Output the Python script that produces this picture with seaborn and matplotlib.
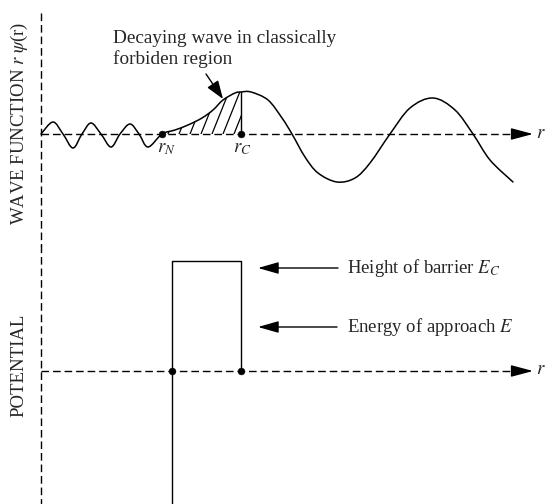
import numpy as np
import pandas as pd
import matplotlib
matplotlib.use("Agg")
import matplotlib.pyplot as plt
import seaborn as sns
from matplotlib.path import Path
from matplotlib.patches import PathPatch

# ---- schematic values (r along the axis, psi / V measured from the axis) ----
wave_r = [0, 12, 22, 32, 41, 50, 60, 70, 79, 89, 98, 107, 121,
          134, 147, 161, 172, 182, 194, 200, 210, 227, 241, 251, 264, 277, 296,
          314, 329, 349, 369, 392, 414, 432, 449, 472]
wave_psi = [0, 12, 0, -14, 0, 11, 0, -13, 0, 10, 0, -13, 0,
            4, 9, 16, 24, 34, 41, 42, 42, 34, 16, 0, -23, -39, -48,
            -44, -29, 0, 26, 36, 24, 0, -26, -48]
r_N = 121
r_C = 200
psi_C = 42

barrier_r = [131, 131, 200, 200]
barrier_V = [-140, 110, 110, 0]
level_EC = 103
level_E = 44

r_end = 479
r_tip = 492

sns.set_style("white")
plt.rcParams["font.family"] = ["Liberation Serif", "DejaVu Serif"]
plt.rcParams["mathtext.fontset"] = "stix"

W, H = 546, 504
fig = plt.figure(figsize=(W / 100, H / 100), dpi=100)
fig.patch.set_facecolor("white")

split = 245  # pixel row separating the two panels
ax_top = fig.add_axes([0, (H - split) / H, 1, split / H])
ax_bot = fig.add_axes([0, 0, 1, (H - split) / H])
for ax in (ax_top, ax_bot):
    ax.set_axis_off()
    ax.set_xlim(-41, W - 41)
ax_top.set_ylim(-(split - 134), 134)
ax_bot.set_ylim(-(H - 371), 371 - split)

LW = 1.0
DASH = (5.5, 2.8)
FS = 13.5


def catmull_segments(xs, ys):
    pts = np.column_stack([xs, ys]).astype(float)
    n = len(pts)
    segs = []
    for i in range(n - 1):
        p0 = pts[i - 1] if i > 0 else pts[i]
        p1, p2 = pts[i], pts[i + 1]
        p3 = pts[i + 2] if i + 2 < n else pts[i + 1]
        segs.append((p1, p1 + (p2 - p0) / 6, p2 - (p3 - p1) / 6, p2))
    return segs


def bezier_path(segs, close_to=None):
    verts = [segs[0][0]]
    codes = [Path.MOVETO]
    for _, c1, c2, p2 in segs:
        verts += [c1, c2, p2]
        codes += [Path.CURVE4] * 3
    if close_to is not None:
        for p in close_to:
            verts.append(p)
            codes.append(Path.LINETO)
        verts.append(verts[0])
        codes.append(Path.CLOSEPOLY)
    return Path(verts, codes)


def dashed(ax, x, y):
    df = pd.DataFrame({"x": x, "y": y})
    sns.lineplot(data=df, x="x", y="y", ax=ax, sort=False, estimator=None,
                 color="black", lw=LW, clip_on=False)
    ax.lines[-1].set_dashes(DASH)


def axis_arrow(ax, y0):
    ax.annotate("", xy=(r_tip, y0), xytext=(r_end - 2, y0),
                arrowprops=dict(arrowstyle="-|>,head_length=0.75,head_width=0.2",
                                color="black", lw=LW, shrinkA=0, shrinkB=0,
                                mutation_scale=18))


# ---- upper panel: wave function ----
dashed(ax_top, [0, 0], [121, -(split - 134) - 1])
dashed(ax_top, [0, r_end], [0, 0])
axis_arrow(ax_top, 0)

segs = catmull_segments(wave_r, wave_psi)
ax_top.add_patch(PathPatch(bezier_path(segs), fill=False, edgecolor="black",
                           lw=LW * 1.1, capstyle="round", zorder=4))

# hatching under the decaying part between r_N and r_C
iN = wave_r.index(r_N)
iC = wave_r.index(r_C)
region = PathPatch(bezier_path(segs[iN:iC], close_to=[(r_C, 0)]),
                   facecolor="none", edgecolor="none")
ax_top.add_patch(region)
slope = 2.5
for x0 in np.arange(r_N + 6, r_C + 20, 11):
    ln, = ax_top.plot([x0, x0 + 60 / slope], [0, 60], color="black", lw=0.9)
    ln.set_clip_path(region)

sns.lineplot(x=[r_C, r_C], y=[0, psi_C], ax=ax_top, color="black", lw=LW,
             estimator=None, sort=False)
sns.scatterplot(x=[r_N, r_C], y=[0, 0], ax=ax_top, color="black", s=24,
                edgecolor="black", zorder=5)

ax_top.text(r_N - 5, -18, r"$r_N$", fontsize=FS, ha="left", va="baseline")
ax_top.text(r_C - 8, -18, r"$r_C$", fontsize=FS, ha="left", va="baseline")
ax_top.text(r_tip + 3, -4, r"$r$", fontsize=FS, ha="left", va="baseline")

ax_top.text(72, 91, "Decaying wave in classically", fontsize=13.9,
            ha="left", va="baseline")
ax_top.text(72, 70, "forbiden region", fontsize=13.9, ha="left", va="baseline")
ax_top.annotate("", xy=(182, 35), xytext=(165, 60),
                arrowprops=dict(arrowstyle="-|>,head_length=0.7,head_width=0.25",
                                color="black", lw=LW, shrinkA=0, shrinkB=0,
                                mutation_scale=16))

# ---- lower panel: potential ----
dashed(ax_bot, [0, 0], [371 - split, -(H - 371) - 1])
dashed(ax_bot, [0, r_end], [0, 0])
axis_arrow(ax_bot, 0)

sns.lineplot(x=barrier_r, y=barrier_V, ax=ax_bot, color="black", lw=LW,
             estimator=None, sort=False)
sns.scatterplot(x=[barrier_r[0], barrier_r[-1]], y=[0, 0], ax=ax_bot,
                color="black", s=24, edgecolor="black", zorder=5)
ax_bot.text(r_tip + 3, -3, r"$r$", fontsize=FS, ha="left", va="baseline")

for lvl, label, tail in [(level_EC, r"Height of barrier $E_C$", 297),
                         (level_E, r"Energy of approach $E$", 296)]:
    ax_bot.annotate("", xy=(217, lvl), xytext=(tail, lvl),
                    arrowprops=dict(arrowstyle="-|>,head_length=0.7,head_width=0.2",
                                    color="black", lw=LW, shrinkA=0, shrinkB=0,
                                    mutation_scale=18))
    ax_bot.text(306, lvl - 5, label, fontsize=FS, ha="left", va="baseline")

# ---- vertical titles ----
fig.text(19 / W, 1 - 123 / H, r"WAVE FUNCTION $r\ \psi$(r)", rotation=90,
         fontsize=FS, ha="center", va="center")
fig.text(19 / W, 1 - 365 / H, "POTENTIAL", rotation=90,
         fontsize=FS, ha="center", va="center")

fig.savefig("out.png", dpi=100)
